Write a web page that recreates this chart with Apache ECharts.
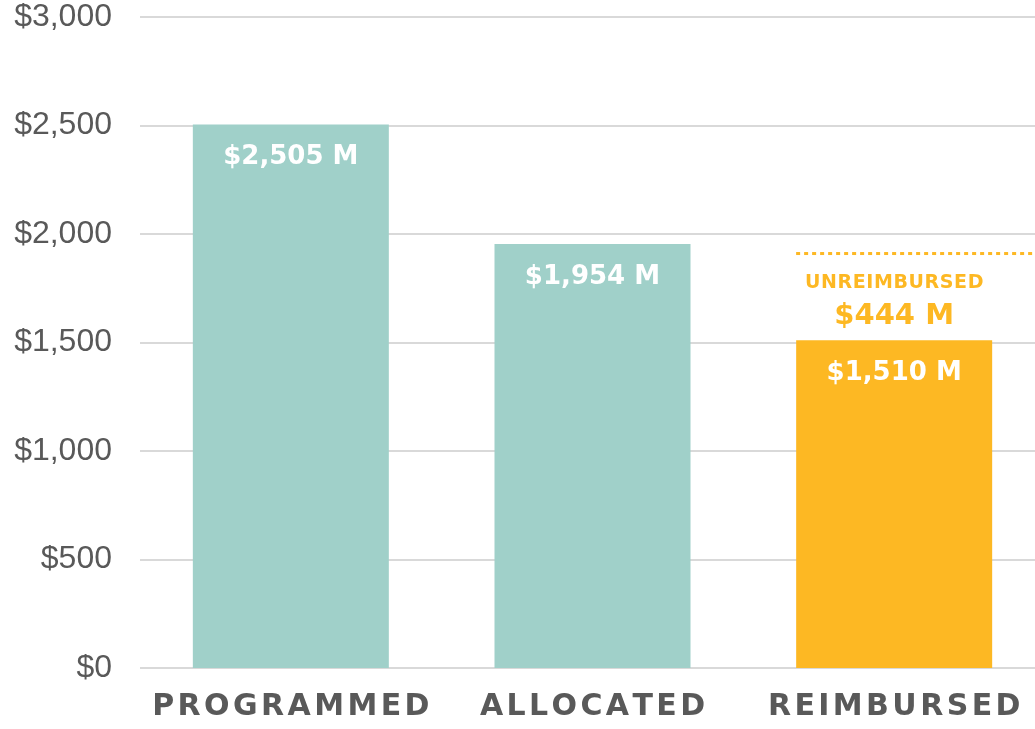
<!DOCTYPE html>
<html>
<head>
<meta charset="utf-8">
<script src="https://cdn.jsdelivr.net/npm/echarts@6/dist/echarts.min.js"></script>
<style>
  html, body { margin: 0; padding: 0; background: #fff; }
  #chart { width: 1035px; height: 729px; }
</style>
</head>
<body>
<div id="chart"></div>
<script>
// data
const categories = ["PROGRAMMED", "ALLOCATED", "REIMBURSED"];
const spent = [2505, 1954, 1510];
const unreimbursed = ["-", "-", 444];
const allocatedLevel = 1910; // dotted line level, as drawn
const yTicks = { min: 0, max: 3000, interval: 500 };

const teal = "#A0D0C9";
const orange = "#FDB823";
const money = (v) => "$" + Number(v).toLocaleString("en-US");

// fake letter spacing: every letter becomes a padded rich segment
const spaced = (s, key) => s.split("").map(c => "{" + key + "|" + c + "}").join("");

const chart = echarts.init(document.getElementById("chart"));

const option = {
    animation: false,
    grid: {
        left: 140,
        top: 17,
        width: 905,
        bottom: 61,
        outerBoundsMode: "none"
    },
    xAxis: [
        {
            type: "category",
            data: categories,
            axisLine: { show: false },
            axisTick: { show: false },
            axisLabel: {
                interval: 0,
                margin: 24,
                formatter: (v) => spaced(v, "l"),
                rich: {
                    l: {
                        color: "#595959",
                        fontFamily: "DejaVu Sans",
                        fontWeight: "bold",
                        fontSize: 30,
                        padding: [0, 1.7]
                    }
                }
            }
        },
        {
            // hidden helper axis over the same bands, for the dotted line
            type: "value",
            min: 0,
            max: 3,
            show: false
        }
    ],
    yAxis: {
        type: "value",
        min: yTicks.min,
        max: yTicks.max,
        interval: yTicks.interval,
        axisLine: { show: false },
        axisTick: { show: false },
        axisLabel: {
            margin: 28,
            color: "#595959",
            fontFamily: "Liberation Sans",
            fontSize: 32,
            formatter: (v) => money(v)
        },
        splitLine: {
            lineStyle: { color: "#D9D9D9", width: 2 }
        }
    },
    series: [
        {
            name: "spent",
            type: "bar",
            stack: "total",
            barWidth: 196,
            data: spent.map((v, i) => i === 2 ? { value: v, itemStyle: { color: orange } } : v),
            itemStyle: { color: teal },
            label: {
                show: true,
                position: "insideTop",
                distance: 20,
                color: "#fff",
                fontFamily: "DejaVu Sans",
                fontWeight: "bold",
                fontSize: 26,
                formatter: (p) => money(p.value) + " M"
            }
        },
        {
            name: "unreimbursed",
            type: "bar",
            stack: "total",
            barWidth: 196,
            data: unreimbursed,
            itemStyle: { color: "rgba(0,0,0,0)" },
            label: {
                show: true,
                position: "inside",
                offset: [0, 8],
                formatter: (p) => spaced("UNREIMBURSED", "a") + "\n{b|" + money(p.value) + " M}",
                rich: {
                    a: {
                        color: orange,
                        fontFamily: "DejaVu Sans",
                        fontWeight: "bold",
                        fontSize: 19,
                        lineHeight: 32,
                        padding: [0, 0.3]
                    },
                    b: {
                        color: orange,
                        fontFamily: "DejaVu Sans",
                        fontWeight: "bold",
                        fontSize: 29,
                        lineHeight: 34
                    }
                }
            }
        },
        {
            name: "allocated line",
            type: "line",
            xAxisIndex: 1,
            data: [[2.175, allocatedLevel], [3, allocatedLevel]],
            symbol: "none",
            lineStyle: { color: orange, width: 3, type: [4, 4] },
            silent: true
        }
    ]
};

chart.setOption(option);
</script>
</body>
</html>
